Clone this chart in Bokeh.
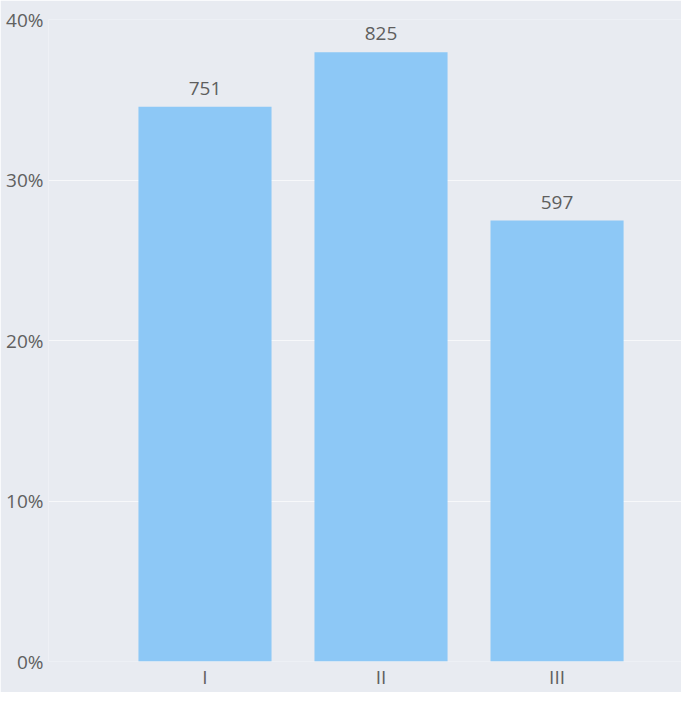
from bokeh.plotting import figure
from bokeh.models import ColumnDataSource, FixedTicker, Range1d
from bokeh.core.properties import value
from bokeh.embed import file_html
from bokeh.resources import INLINE

categories = ["I", "II", "III"]
counts = [751, 825, 597]
y_ticks = [0, 10, 20, 30, 40]
y_tick_labels = ["0%", "10%", "20%", "30%", "40%"]

total = sum(counts)
pcts = [c / total * 100 for c in counts]
xs = [1, 2, 3]

src = ColumnDataSource(dict(x=xs, top=pcts, lab=[str(c) for c in counts]))

FONT = "Open Sans"
BG = "#e8ebf1"

p = figure(width=681, height=692, output_backend="svg", toolbar_location=None,
           x_range=Range1d(0.111, 3.707), y_range=Range1d(0, 40),
           min_border_left=48, min_border_right=0, min_border_top=19,
           min_border_bottom=0)
p.background_fill_color = BG
p.border_fill_color = BG
p.outline_line_color = None

p.vbar(x="x", top="top", bottom=0, width=0.756, source=src,
       fill_color="#8dc8f6", line_color=None)
p.text(x="x", y="top", text="lab", source=src, text_align="center",
       text_baseline="bottom", y_offset=-12, text_font=value(FONT),
       text_font_size="19px", text_color="#5e5e5e")

p.yaxis.ticker = FixedTicker(ticks=y_ticks)
p.yaxis.major_label_overrides = {t: l for t, l in zip(y_ticks, y_tick_labels)}
p.xaxis.ticker = FixedTicker(ticks=xs)
p.xaxis.major_label_overrides = {x: c for x, c in zip(xs, categories)}

for ax in (p.xaxis, p.yaxis):
    ax.axis_line_color = None
    ax.major_tick_line_color = None
    ax.minor_tick_line_color = None
    ax.major_tick_out = 0
    ax.major_tick_in = 0
    ax.minor_tick_out = 0
    ax.minor_tick_in = 0
    ax.major_label_text_font = FONT
    ax.major_label_text_font_size = "19px"
    ax.major_label_text_color = "#606060"
p.yaxis.major_label_standoff = 5
p.xaxis.major_label_standoff = 2

p.xgrid.grid_line_color = None
p.ygrid.grid_line_color = "#f7f8fa"
p.ygrid.grid_line_width = 1.2

open("out.html", "w").write(file_html(p, INLINE))
